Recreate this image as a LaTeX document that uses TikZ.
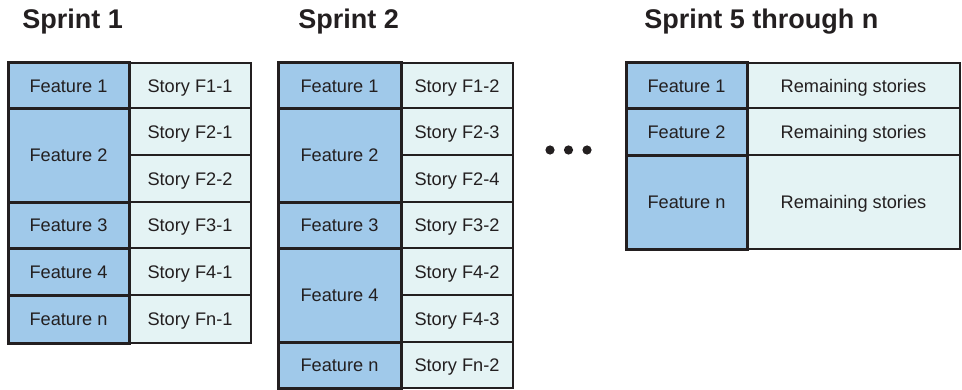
\documentclass[tikz,border=0pt]{standalone}
\usepackage{fontspec}
\setmainfont{Liberation Sans}
\usetikzlibrary{fit}
\definecolor{featblue}{RGB}{160,201,234}
\definecolor{storybg}{RGB}{228,243,244}
\definecolor{ink}{RGB}{35,31,32}
\begin{document}
\begin{tikzpicture}[x=0.5pt,y=-0.5pt,
  cellfont/.style={font=\fontsize{9.1}{10}\selectfont, text=ink},
  feat/.style={draw=ink, fill=featblue, line width=1.5pt, inner sep=0pt},
  story/.style={draw=ink, fill=storybg, line width=1pt, inner sep=0pt},
  txt/.style={cellfont, inner sep=0pt, anchor=center, text height=6.5pt, text depth=0pt},
  title/.style={anchor=base west, font=\bfseries\fontsize{13.5}{15}\selectfont, text=ink, inner sep=0pt},
  dot/.style={circle, fill=ink, inner sep=0pt, minimum size=4.6pt}]
\useasboundingbox (0,0) rectangle (962,390);

% titles
\node[title] (t1) at (22,29) {Sprint 1};
\node[title] (t2) at (298,29) {Sprint 2};
\node[title] (t3) at (644,29) {Sprint 5 through n};

% Sprint 1 stories
\node[story, fit={(129,63) (251,108)}] (a11) {};
\node[story, fit={(129,108) (251,155)}] (a21) {};
\node[story, fit={(129,155) (251,202)}] (a22) {};
\node[story, fit={(129,202) (251,248)}] (a31) {};
\node[story, fit={(129,248) (251,295)}] (a41) {};
\node[story, fit={(129,295) (251,343)}] (an1) {};
% Sprint 1 features
\node[feat, fit={(8,63) (129,108)}] (af1) {};
\node[feat, fit={(8,108) (129,202)}] (af2) {};
\node[feat, fit={(8,202) (129,248)}] (af3) {};
\node[feat, fit={(8,248) (129,295)}] (af4) {};
\node[feat, fit={(8,295) (129,343)}] (afn) {};

% Sprint 2 stories
\node[story, fit={(401,63) (513,108)}] (b12) {};
\node[story, fit={(401,108) (513,155)}] (b23) {};
\node[story, fit={(401,155) (513,202)}] (b24) {};
\node[story, fit={(401,202) (513,248)}] (b32) {};
\node[story, fit={(401,248) (513,295)}] (b42) {};
\node[story, fit={(401,295) (513,342)}] (b43) {};
\node[story, fit={(401,342) (513,388)}] (bn2) {};
% Sprint 2 features
\node[feat, fit={(278,63) (401,108)}] (bf1) {};
\node[feat, fit={(278,108) (401,202)}] (bf2) {};
\node[feat, fit={(278,202) (401,248)}] (bf3) {};
\node[feat, fit={(278,248) (401,342)}] (bf4) {};
\node[feat, fit={(278,342) (401,388)}] (bfn) {};

% Sprint 5 through n
\node[story, fit={(747,63) (960,108)}] (c1) {};
\node[story, fit={(747,108) (960,155)}] (c2) {};
\node[story, fit={(747,155) (960,249)}] (cn) {};
\node[feat, fit={(626,63) (747,108)}] (cf1) {};
\node[feat, fit={(626,108) (747,155)}] (cf2) {};
\node[feat, fit={(626,155) (747,249)}] (cfn) {};

% texts
\node[txt] (la11) at (a11.center) {Story F1-1};
\node[txt] (la21) at (a21.center) {Story F2-1};
\node[txt] (la22) at (a22.center) {Story F2-2};
\node[txt] (la31) at (a31.center) {Story F3-1};
\node[txt] (la41) at (a41.center) {Story F4-1};
\node[txt] (lan1) at (an1.center) {Story Fn-1};
\node[txt] (laf1) at (af1.center) {Feature 1};
\node[txt] (laf2) at (af2.center) {Feature 2};
\node[txt] (laf3) at (af3.center) {Feature 3};
\node[txt] (laf4) at (af4.center) {Feature 4};
\node[txt] (lafn) at (afn.center) {Feature n};

\node[txt] (lb12) at (b12.center) {Story F1-2};
\node[txt] (lb23) at (b23.center) {Story F2-3};
\node[txt] (lb24) at (b24.center) {Story F2-4};
\node[txt] (lb32) at (b32.center) {Story F3-2};
\node[txt] (lb42) at (b42.center) {Story F4-2};
\node[txt] (lb43) at (b43.center) {Story F4-3};
\node[txt] (lbn2) at (bn2.center) {Story Fn-2};
\node[txt] (lbf1) at (bf1.center) {Feature 1};
\node[txt] (lbf2) at (bf2.center) {Feature 2};
\node[txt] (lbf3) at (bf3.center) {Feature 3};
\node[txt] (lbf4) at (bf4.center) {Feature 4};
\node[txt] (lbfn) at (bfn.center) {Feature n};

\node[txt] (lc1) at (c1.center) {Remaining stories};
\node[txt] (lc2) at (c2.center) {Remaining stories};
\node[txt] (lcn) at (cn.center) {Remaining stories};
\node[txt] (lcf1) at (cf1.center) {Feature 1};
\node[txt] (lcf2) at (cf2.center) {Feature 2};
\node[txt] (lcfn) at (cfn.center) {Feature n};

% dots
\node[dot] (d1) at (550,150) {};
\node[dot] (d2) at (568.5,150) {};
\node[dot] (d3) at (587,150) {};
\end{tikzpicture}
\end{document}
